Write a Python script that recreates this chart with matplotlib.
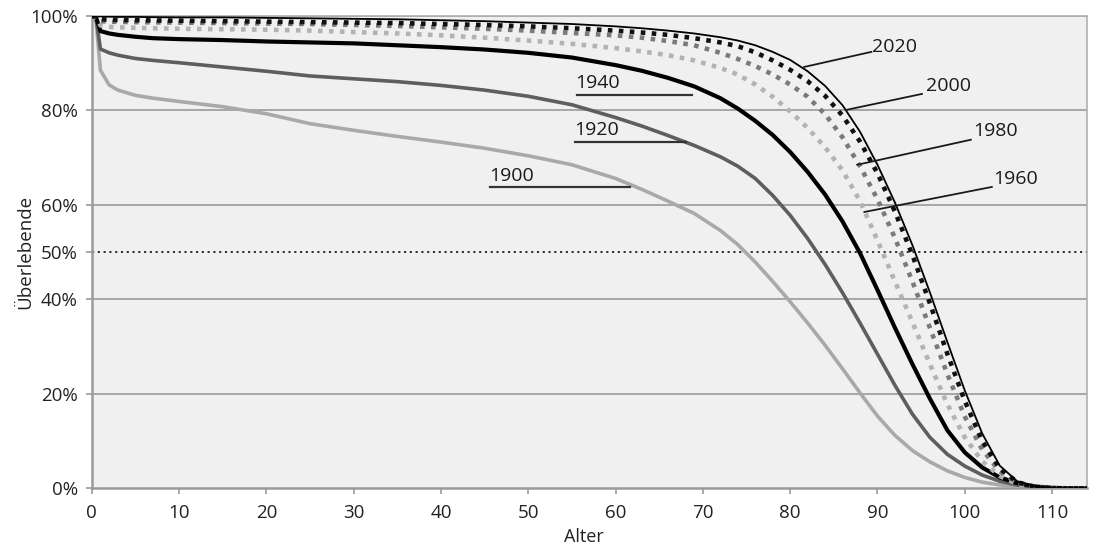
import matplotlib
matplotlib.use("Agg")
import matplotlib.pyplot as plt
from matplotlib.ticker import FuncFormatter

plt.rcParams['font.family'] = ['Open Sans', 'DejaVu Sans']

ages = [0, 0.5, 1, 2, 3, 5, 7, 10, 15, 20, 25, 30, 35, 40, 45, 50, 55, 60, 63, 66, 69, 72, 74, 76, 78,
        80, 82, 84, 86, 88, 90, 92, 94, 96, 98, 100, 102, 104, 106, 108, 110, 112, 114]

s1900 = [100, 99, 88.5, 85.4, 84.3, 83.2, 82.6, 81.9, 80.8, 79.3, 77.2, 75.8, 74.5, 73.3, 72, 70.4, 68.5, 65.6,
         63.3, 60.8, 58.2, 54.6, 51.6, 47.9, 43.8,
         39.5, 35, 30.3, 25.3, 20.2, 15.3, 11.2, 8, 5.6, 3.7, 2.3, 1.3, 0.7, 0.3, 0.1, 0, 0, 0]
s1920 = [100, 99.5, 93, 92.2, 91.7, 91, 90.6, 90.1, 89.2, 88.3, 87.3, 86.7, 86.1, 85.3, 84.3, 83, 81.2, 78.5,
         76.7, 74.7, 72.6, 70.2, 68.2, 65.6, 62,
         57.8, 52.9, 47.4, 41.4, 35, 28.4, 21.8, 15.7, 10.8, 7.2, 4.7, 2.8, 1.5, 0.7, 0.3, 0.1, 0, 0]
s1940 = [100, 99.7, 96.8, 96.3, 96, 95.6, 95.3, 95.1, 94.9, 94.6, 94.4, 94.2, 93.8, 93.4, 92.9, 92.2, 91.2, 89.6,
         88.4, 86.9, 85.1, 82.6, 80.4, 77.8, 74.8,
         71.2, 67, 62.2, 56.5, 49.8, 42, 34, 26.3, 19, 12.3, 7.6, 4.4, 2.3, 1.1, 0.4, 0.1, 0, 0]
s1960 = [100, 99.5, 98, 97.7, 97.6, 97.5, 97.4, 97.3, 97.2, 97.1, 96.9, 96.6, 96.3, 95.9, 95.4, 94.8, 94.1, 93.2,
         92.5, 91.7, 90.6, 89, 87.6, 85.5, 82.9,
         79.8, 76.3, 72.2, 67.3, 60.8, 52.5, 43.8, 35.2, 26.3, 17.8, 10.8, 5.7, 2.6, 0.9, 0.2, 0, 0, 0]
s1980 = [100, 99.7, 98.9, 98.8, 98.75, 98.7, 98.65, 98.6, 98.5, 98.4, 98.3, 98.1, 97.9, 97.6, 97.3, 96.9, 96.4, 95.9,
         95.4, 94.7, 93.8, 92.2, 90.9, 89.4, 87.6,
         85.5, 82.9, 79.2, 74.3, 68.2, 61.2, 53, 43.8, 34, 24.2, 15.2, 8.2, 3.6, 1.2, 0.3, 0, 0, 0]
s2000 = [100, 99.8, 99.3, 99.2, 99.15, 99.1, 99.05, 99, 98.9, 98.8, 98.7, 98.6, 98.5, 98.3, 98.1, 97.8, 97.4, 96.9,
         96.5, 96, 95.3, 94.4, 93.6, 92.3, 90.6,
         88.6, 86.2, 83.1, 78.9, 73.4, 66.7, 58.6, 49.4, 39.2, 28.5, 18.5, 10, 4.2, 1.3, 0.3, 0, 0, 0]
s2020 = [100, 99.95, 99.9, 99.85, 99.8, 99.8, 99.75, 99.7, 99.7, 99.6, 99.5, 99.4, 99.3, 99.1, 98.9, 98.6, 98.3, 97.8,
         97.4, 96.9, 96.3, 95.5, 94.8, 93.8, 92.4,
         90.7, 88.3, 85.2, 81.1, 75.5, 68.5, 60.5, 51.5, 41.5, 31, 20.7, 11.6, 4.8, 1.5, 0.4, 0.05, 0, 0]

x_ticks = [0, 10, 20, 30, 40, 50, 60, 70, 80, 90, 100, 110]
y_ticks = [0, 20, 40, 50, 60, 80, 100]
grid_levels = [20, 40, 60, 80, 100]

fig = plt.figure(figsize=(10.93, 5.49), dpi=100)
ax = fig.add_axes([0.0839, 0.1106, 0.9106, 0.8603])
ax.set_facecolor('#f0f0f0')

for g in grid_levels:
    ax.axhline(g, color='#a6a6a6', lw=1.4, zorder=1)
ax.axhline(50, color='#222222', lw=1.3, ls=(0, (1.2, 2.0)), zorder=1)

ax.plot(ages, s1900, color='#a9a9a9', lw=2.6, zorder=3, solid_joinstyle='round')
ax.plot(ages, s1920, color='#5e5e5e', lw=2.6, zorder=3, solid_joinstyle='round')
ax.plot(ages, s1940, color='#000000', lw=3.0, zorder=3, solid_joinstyle='round')
ax.plot(ages, s1960, color='#b3b3b3', lw=3.3, ls=(0, (1.0, 1.4)), dash_capstyle='butt', zorder=3)
ax.plot(ages, s1980, color='#7a7a7a', lw=3.3, ls=(0, (1.0, 1.4)), dash_capstyle='butt', zorder=3)
ax.plot(ages, s2000, color='#111111', lw=3.3, ls=(0, (1.0, 1.4)), dash_capstyle='butt', zorder=3)
ax.plot(ages, s2020, color='#000000', lw=1.3, zorder=4, solid_joinstyle='round')

# labels with leader lines
lab_kw = dict(fontsize=14, color='#1a1a1a', zorder=5)
def leader(x0, y0, x1, y1):
    ax.plot([x0, x1], [y0, y1], color='#1a1a1a', lw=1.3, zorder=5)

leader(81.6, 89.2, 89.3, 92.4); ax.text(89.4, 93.4, '2020', va='center', ha='left', **lab_kw)
leader(86.4, 80.1, 95.1, 83.5); ax.text(95.6, 85.2, '2000', va='center', ha='left', **lab_kw)
leader(87.7, 68.5, 100.7, 73.8); ax.text(101.0, 75.6, '1980', va='center', ha='left', **lab_kw)
leader(88.5, 58.5, 103.1, 63.8); ax.text(103.3, 65.5, '1960', va='center', ha='left', **lab_kw)
ax.plot([55.6, 68.8], [83.3, 83.3], color='#333333', lw=1.6, zorder=5)
ax.text(55.4, 85.8, '1940', va='center', ha='left', **lab_kw)
ax.plot([55.4, 68.1], [73.3, 73.3], color='#333333', lw=1.6, zorder=5)
ax.text(55.3, 75.8, '1920', va='center', ha='left', **lab_kw)
ax.plot([45.6, 61.6], [63.8, 63.8], color='#333333', lw=1.6, zorder=5)
ax.text(45.5, 66.2, '1900', va='center', ha='left', **lab_kw)

ax.set_xlim(0, 114)
ax.set_ylim(0, 100)
ax.set_xticks(x_ticks)
ax.set_yticks(y_ticks)
ax.yaxis.set_major_formatter(FuncFormatter(lambda v, p: f'{int(v)}%'))
ax.tick_params(axis='both', colors='#999999', labelcolor='#222222', labelsize=13.5, length=4, width=1.2)
ax.tick_params(axis='x', pad=7)
ax.tick_params(axis='y', pad=6)

for side in ['left', 'bottom']:
    ax.spines[side].set_color('#9a9a9a')
    ax.spines[side].set_linewidth(1.8)
for side in ['top', 'right']:
    ax.spines[side].set_color('#b0b0b0')
    ax.spines[side].set_linewidth(1.2)

ax.set_xlabel('Alter', fontsize=13, color='#222222')
ax.set_ylabel('Überlebende', fontsize=13.5, color='#222222')
ax.xaxis.set_label_coords(0.495, -0.084)
ax.yaxis.set_label_coords(-0.058, 0.5)

fig.savefig('out.png', dpi=100, facecolor='white')
